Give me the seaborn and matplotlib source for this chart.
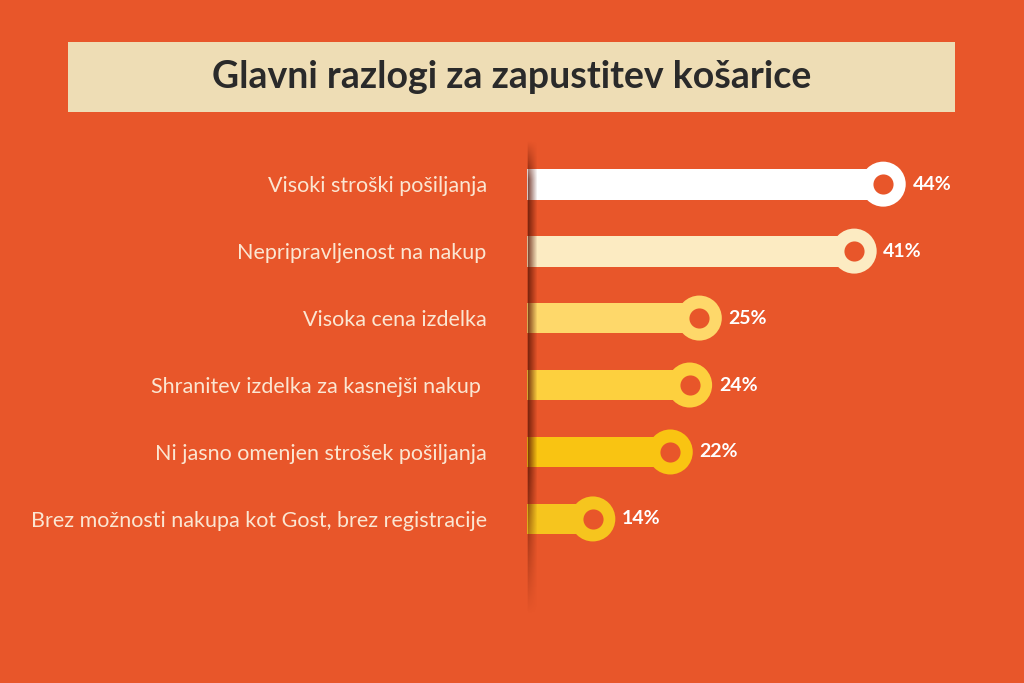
import numpy as np
import pandas as pd
import matplotlib
matplotlib.use("Agg")
import matplotlib.pyplot as plt
import seaborn as sns

# data
reasons = [
    "Visoki stroški pošiljanja",
    "Nepripravljenost na nakup",
    "Visoka cena izdelka",
    "Shranitev izdelka za kasnejši nakup ",
    "Ni jasno omenjen strošek pošiljanja",
    "Brez možnosti nakupa kot Gost, brez registracije",
]
shares = [44, 41, 25, 24, 22, 14]
bar_colors = ["#FFFFFF", "#FCEBC2", "#FED86A", "#FDD03E", "#F9C412", "#F6C51E"]

BG = "#E8562A"
df = pd.DataFrame({"reason": reasons, "share": shares})

sns.set_theme(style="white")
plt.rcParams["font.family"] = ["Lato", "DejaVu Sans"]

fig = plt.figure(figsize=(10.24, 6.83), dpi=100, facecolor=BG)
W, H = 1024, 683

# title box
tax = fig.add_axes([68 / W, 1 - 112 / H, (955 - 68) / W, 70 / H])
tax.set_facecolor("#EEDDB5")
tax.set_xticks([])
tax.set_yticks([])
for s in tax.spines.values():
    s.set_visible(False)
tax.text(0.5, 0.5, "Glavni razlogi za zapustitev košarice", ha="center", va="center",
         fontsize=27, fontweight="bold", color="#2A2A2A", transform=tax.transAxes)

# main axes: left edge at pixel 527, from y=150 to 610
ax = fig.add_axes([527 / W, 1 - 610 / H, (1000 - 527) / W, (610 - 150) / H])
ax.set_facecolor(BG)
sns.barplot(data=df, x="share", y="reason", hue="reason", palette=bar_colors,
            orient="h", width=0.46, legend=False, ax=ax, saturation=1)
for p in ax.patches:
    p.set_edgecolor("none")

ypos = np.arange(len(shares))
ax.scatter(shares, ypos, s=1050, c=bar_colors, zorder=3, linewidths=0)
ax.scatter(shares, ypos, s=210, c=BG, zorder=4, linewidths=0)

for v, y in zip(shares, ypos):
    ax.annotate(f"{v}%", (v, y), xytext=(21, 0), textcoords="offset points",
                ha="left", va="center", fontsize=14, fontweight="bold", color="white")

ax.set_xlim(7.2, 7.2 + 473 / 9.68)
ax.set_ylim(5 + 1.36, -0.51)
ax.set_xlabel("")
ax.set_ylabel("")
ax.set_xticks([])
ax.tick_params(axis="y", length=0, pad=29, labelsize=15.5, labelcolor="#FBE6D2")
for s in ax.spines.values():
    s.set_visible(False)

# vertical axis shadow
sax = fig.add_axes([524 / W, 1 - 615 / H, 14 / W, (615 - 140) / H])
sax.axis("off")
nx, ny = 14, 200
xs = np.linspace(0, 1, nx)
ys = np.linspace(0, 1, ny)
horiz = np.interp(xs, [0, 0.2, 0.3, 1.0], [0.0, 0.0, 0.75, 0.0])
vert = np.interp(ys, [0, 0.08, 0.7, 1.0], [0.0, 1.0, 1.0, 0.0])
alpha = np.outer(vert, horiz)
img = np.zeros((ny, nx, 4))
img[..., 0] = 0.35
img[..., 1] = 0.08
img[..., 2] = 0.02
img[..., 3] = alpha
sax.imshow(img, aspect="auto", extent=[0, 1, 0, 1], interpolation="bilinear")
sax.set_xlim(0, 1)
sax.set_ylim(0, 1)

fig.savefig("out.png", dpi=100, facecolor=BG)
